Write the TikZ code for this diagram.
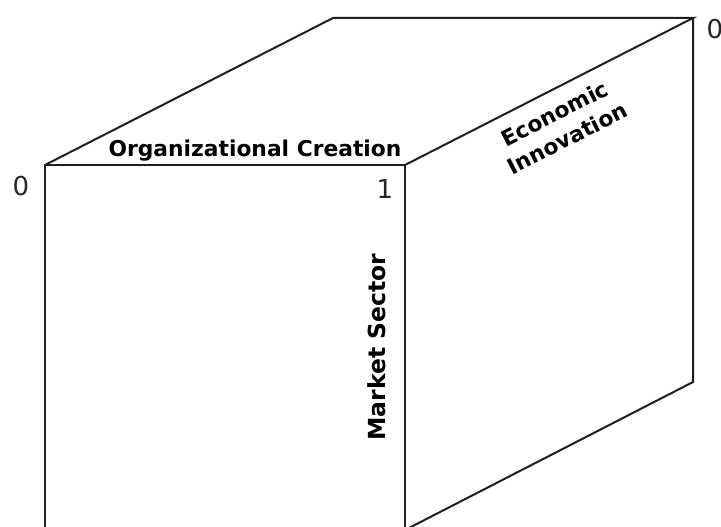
\documentclass[tikz,border=0pt]{standalone}
\usepackage{fontspec}
\setmainfont{DejaVu Sans}
\begin{document}
\begin{tikzpicture}[x=1pt,y=-1pt,
  edge/.style={draw=black!88,line width=2pt,line join=miter},
  axislabel/.style={font=\bfseries\fontsize{21.8}{28}\selectfont,inner sep=0pt,text=black},
  numlabel/.style={font=\fontsize{26}{30}\selectfont,inner sep=0pt,text=black!85}]
\useasboundingbox (0,0) rectangle (721,527);
\clip (0,0) rectangle (721,527);
\coordinate (A) at (45,165);
\coordinate (B) at (405,165);
\coordinate (C) at (405,530);
\coordinate (D) at (45,530);
\coordinate (E) at (333,18);
\coordinate (F) at (693,18);
\coordinate (G) at (693,382);
\draw[edge] (D) -- (A) -- (B) -- (C) -- cycle;
\draw[edge] (A) -- (E) -- (F) -- (B);
\draw[edge] (F) -- (G) -- (C);
\node[axislabel] (oc) at (255,151) {Organizational Creation};
\node[axislabel,font=\bfseries\fontsize{23.5}{28}\selectfont,rotate=90] (ms) at (377,347) {Market Sector};
\node[axislabel,rotate=27,align=center] (ei) at (561,126) {Economic\\Innovation};
\node[numlabel] (z1) at (21,186) {0};
\node[numlabel] (o1) at (385,189) {1};
\node[numlabel] (z2) at (715,29) {0};
\end{tikzpicture}
\end{document}
